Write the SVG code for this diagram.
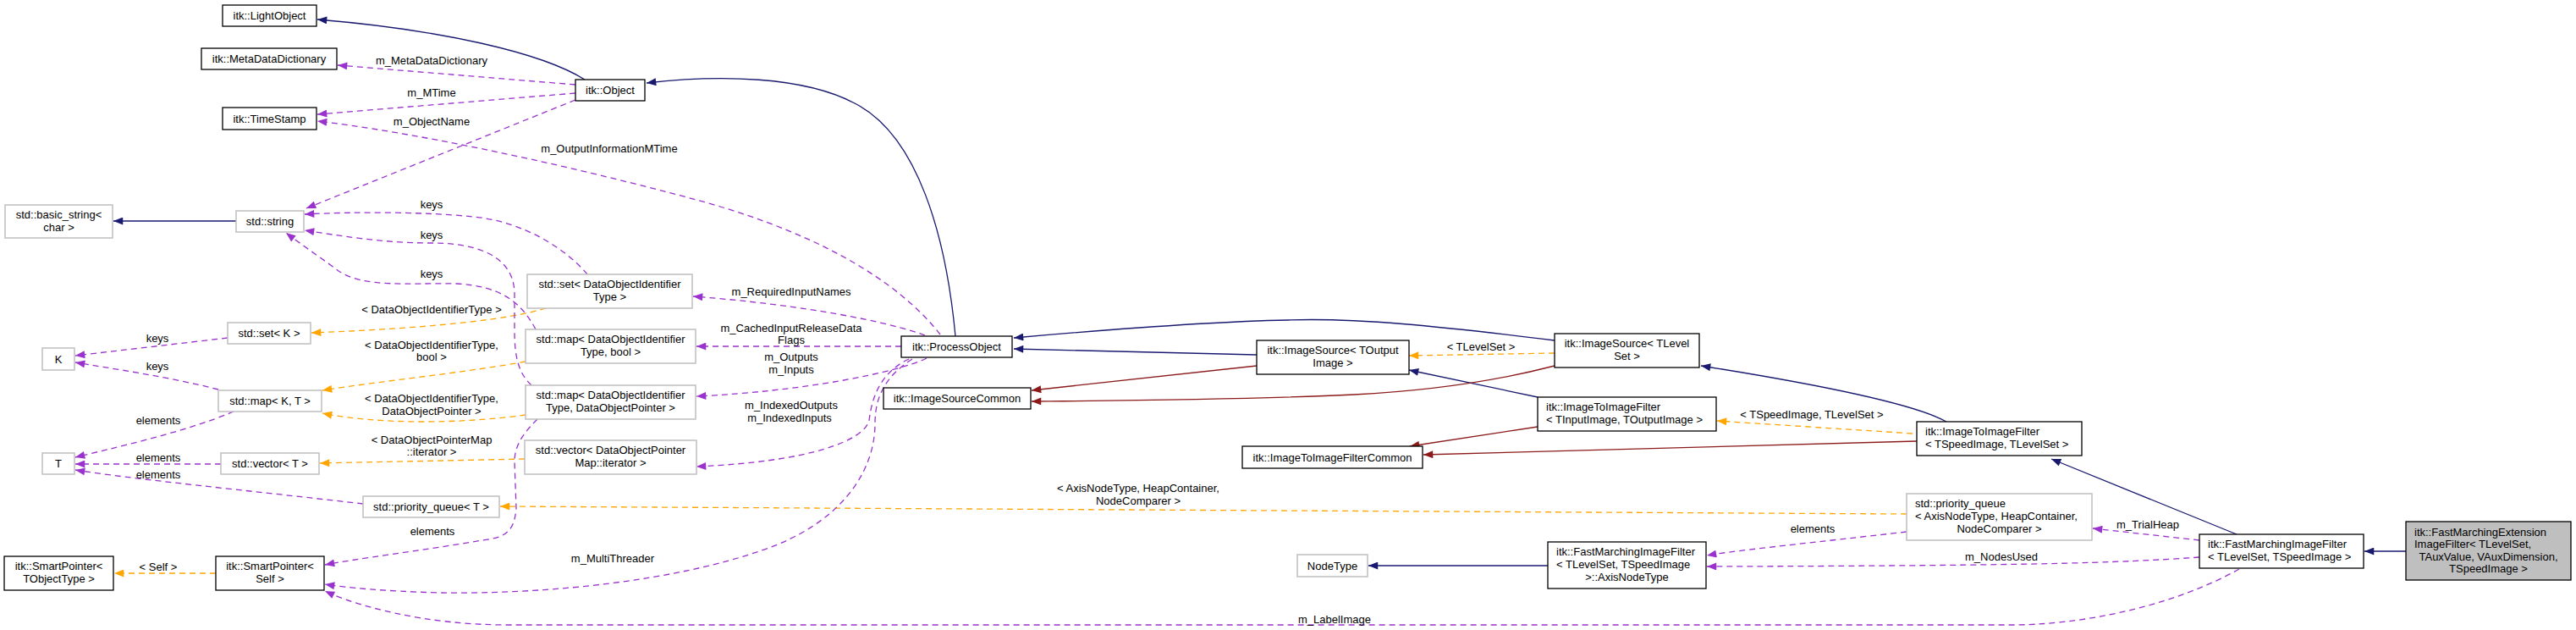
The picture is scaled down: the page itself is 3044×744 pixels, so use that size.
<svg xmlns="http://www.w3.org/2000/svg" width="3044" height="744" viewBox="0 0 3044 744">
<style>
text{font-family:"Liberation Sans",Arial,sans-serif;font-size:13px;fill:#000}
.c{text-anchor:middle}
.l{text-anchor:start}
.nb{fill:#fff;stroke:#000;stroke-width:1.3}
.ng{fill:#fff;stroke:#bfbfbf;stroke-width:1.5}
.nt{fill:#bfbfbf;stroke:#000;stroke-width:1.3}
.e{fill:none;stroke-width:1.3}
.inh{stroke:#191970}
.cmn{stroke:#8b1a1a}
.tpl{stroke:#ffa500;stroke-dasharray:7,5}
.use{stroke:#9a32cd;stroke-dasharray:7,5}
</style>
<defs>
<marker id="aN" viewBox="0 0 10 8" refX="10" refY="4" markerWidth="12" markerHeight="9" markerUnits="userSpaceOnUse" orient="auto"><path d="M0,0L10,4L0,8z" fill="#191970"/></marker>
<marker id="aR" viewBox="0 0 10 8" refX="10" refY="4" markerWidth="12" markerHeight="9" markerUnits="userSpaceOnUse" orient="auto"><path d="M0,0L10,4L0,8z" fill="#8b1a1a"/></marker>
<marker id="aO" viewBox="0 0 10 8" refX="10" refY="4" markerWidth="12" markerHeight="9" markerUnits="userSpaceOnUse" orient="auto"><path d="M0,0L10,4L0,8z" fill="#ffa500"/></marker>
<marker id="aP" viewBox="0 0 10 8" refX="10" refY="4" markerWidth="12" markerHeight="9" markerUnits="userSpaceOnUse" orient="auto"><path d="M0,0L10,4L0,8z" fill="#9a32cd"/></marker>
</defs>
<rect width="3044" height="744" fill="#fff"/>
<g id="connectors">
<path class="e inh" marker-end="url(#aN)" d="M691,94 C640,62 520,35 375,23"/>
<path class="e inh" marker-end="url(#aN)" d="M1129,397 C1118,280 1085,160 1010,122 C950,90 850,88 764,98"/>
<path class="e inh" marker-end="url(#aN)" d="M279,261 L134,261"/>
<path class="e inh" marker-end="url(#aN)" d="M1485,419 L1198,412"/>
<path class="e inh" marker-end="url(#aN)" d="M1837,402 C1700,385 1600,375 1522,378 C1420,380 1300,390 1198,399"/>
<path class="e inh" marker-end="url(#aN)" d="M1817,469 L1665,437"/>
<path class="e inh" marker-end="url(#aN)" d="M2300,498 Q2250,470 2010,432"/>
<path class="e inh" marker-end="url(#aN)" d="M2643,631 L2424,542"/>
<path class="e inh" marker-end="url(#aN)" d="M1829,668 L1617,668"/>
<path class="e inh" marker-end="url(#aN)" d="M2843,651 L2794,651"/>
<path class="e cmn" marker-end="url(#aR)" d="M1485,432 L1219,461"/>
<path class="e cmn" marker-end="url(#aR)" d="M1837,432 C1760,452 1680,462 1600,466 C1480,472 1330,473 1219,474"/>
<path class="e cmn" marker-end="url(#aR)" d="M1817,504 L1666,527"/>
<path class="e cmn" marker-end="url(#aR)" d="M2265,521 C2000,528 1800,534 1682,537"/>
<path class="e tpl" marker-end="url(#aO)" d="M1837,417 L1665,420"/>
<path class="e tpl" marker-end="url(#aO)" d="M2260,512 L2029,497"/>
<path class="e tpl" marker-end="url(#aO)" d="M2253,607 L591,598"/>
<path class="e tpl" marker-end="url(#aO)" d="M645,364 C600,378 500,388 368,393"/>
<path class="e tpl" marker-end="url(#aO)" d="M621,427 C550,440 450,450 381,461"/>
<path class="e tpl" marker-end="url(#aO)" d="M621,490 C550,500 450,502 381,488"/>
<path class="e tpl" marker-end="url(#aO)" d="M620,542 L378,547"/>
<path class="e tpl" marker-end="url(#aO)" d="M255,677 L135,677"/>
<path class="e use" marker-end="url(#aP)" d="M680,100 L399,77"/>
<path class="e use" marker-end="url(#aP)" d="M680,110 L375,135"/>
<path class="e use" marker-end="url(#aP)" d="M680,118 L362,246"/>
<path class="e use" marker-end="url(#aP)" d="M1111,395 C1060,330 960,270 800,230 C650,190 480,155 375,143"/>
<path class="e use" marker-end="url(#aP)" d="M694,324 C670,295 620,262 560,256 C500,250 420,250 360,253"/>
<path class="e use" marker-end="url(#aP)" d="M628,455 C612,440 608,420 608,390 L608,345 C606,300 560,287 510,287 C450,287 400,278 360,272"/>
<path class="e use" marker-end="url(#aP)" d="M633,389 C615,355 590,338 540,335 C480,334 430,340 400,320 C380,305 355,288 338,275"/>
<path class="e use" marker-end="url(#aP)" d="M269,399 L89,420"/>
<path class="e use" marker-end="url(#aP)" d="M258,460 C200,445 130,435 89,428"/>
<path class="e use" marker-end="url(#aP)" d="M276,486 C220,510 130,530 89,540"/>
<path class="e use" marker-end="url(#aP)" d="M261,548 L89,548"/>
<path class="e use" marker-end="url(#aP)" d="M429,595 C300,580 150,565 89,555"/>
<path class="e use" marker-end="url(#aP)" d="M635,495 C620,510 608,525 608,545 L610,600 C608,625 600,635 570,638 C500,650 420,660 384,667"/>
<path class="e use" marker-end="url(#aP)" d="M1093,396 C1050,380 950,360 819,350"/>
<path class="e use" marker-end="url(#aP)" d="M1065,409 L823,409"/>
<path class="e use" marker-end="url(#aP)" d="M1095,423 C1060,440 950,462 823,468"/>
<path class="e use" marker-end="url(#aP)" d="M1074,424 C1040,440 1030,470 1027,497 C1020,520 960,545 823,551"/>
<path class="e use" marker-end="url(#aP)" d="M1078,424 C1045,445 1034,470 1034,500 C1034,560 990,620 900,650 C800,685 650,702 520,700 C450,698 410,694 384,690"/>
<path class="e use" marker-end="url(#aP)" d="M2646,672 C2560,720 2450,738 2378,738 L600,738 C500,738 420,715 384,698"/>
<path class="e use" marker-end="url(#aP)" d="M2599,638 L2473,624"/>
<path class="e use" marker-end="url(#aP)" d="M2599,658 C2500,665 2400,668 2017,669"/>
<path class="e use" marker-end="url(#aP)" d="M2253,628 C2150,640 2050,650 2017,656"/>
</g>
<g id="edge-labels">
<text class="c" x="510" y="75.5">m_MetaDataDictionary</text>
<text class="c" x="510" y="113.5">m_MTime</text>
<text class="c" x="510" y="147.5">m_ObjectName</text>
<text class="c" x="720" y="179.5">m_OutputInformationMTime</text>
<text class="c" x="510" y="245.5">keys</text>
<text class="c" x="510" y="281.5">keys</text>
<text class="c" x="510" y="327.5">keys</text>
<text class="c" x="510" y="369.5">&lt; DataObjectIdentifierType &gt;</text>
<text class="c" x="186" y="403.5">keys</text>
<text class="c" x="510" y="411.5">&lt; DataObjectIdentifierType,</text>
<text class="c" x="510" y="425.5">bool &gt;</text>
<text class="c" x="186" y="436.5">keys</text>
<text class="c" x="510" y="474.5">&lt; DataObjectIdentifierType,</text>
<text class="c" x="510" y="489.5">DataObjectPointer &gt;</text>
<text class="c" x="187" y="500.5">elements</text>
<text class="c" x="510" y="523.5">&lt; DataObjectPointerMap</text>
<text class="c" x="510" y="537.5">::iterator &gt;</text>
<text class="c" x="187" y="544.5">elements</text>
<text class="c" x="187" y="564.5">elements</text>
<text class="c" x="511" y="631.5">elements</text>
<text class="c" x="187" y="673.5">&lt; Self &gt;</text>
<text class="c" x="724" y="663.5">m_MultiThreader</text>
<text class="c" x="935" y="348.5">m_RequiredInputNames</text>
<text class="c" x="935" y="391.5">m_CachedInputReleaseData</text>
<text class="c" x="935" y="405.5">Flags</text>
<text class="c" x="935" y="425.5">m_Outputs</text>
<text class="c" x="935" y="440.5">m_Inputs</text>
<text class="c" x="935" y="482.5">m_IndexedOutputs</text>
<text class="c" x="933" y="497.5">m_IndexedInputs</text>
<text class="c" x="1750" y="413.5">&lt; TLevelSet &gt;</text>
<text class="c" x="2141" y="493.5">&lt; TSpeedImage, TLevelSet &gt;</text>
<text class="c" x="1345" y="580.5">&lt; AxisNodeType, HeapContainer,</text>
<text class="c" x="1345" y="595.5">NodeComparer &gt;</text>
<text class="c" x="2142" y="628.5">elements</text>
<text class="c" x="2538" y="623.5">m_TrialHeap</text>
<text class="c" x="2365" y="661.5">m_NodesUsed</text>
<text class="c" x="1577" y="735.5">m_LabelImage</text>
</g>
<g id="n_light"><rect class="nb" x="263" y="6" width="111" height="25"/><text class="c" x="318.5" y="23">itk::LightObject</text></g>
<g id="n_mdd"><rect class="nb" x="238" y="57" width="160" height="25"/><text class="c" x="318" y="74">itk::MetaDataDictionary</text></g>
<g id="n_ts"><rect class="nb" x="263" y="127" width="111" height="26"/><text class="c" x="318.5" y="144.5">itk::TimeStamp</text></g>
<g id="n_obj"><rect class="nb" x="680" y="94" width="82" height="25"/><text class="c" x="721" y="111">itk::Object</text></g>
<g id="n_bstr"><rect class="ng" x="6" y="242" width="127" height="39"/><text class="c" x="69.5" y="257.5">std::basic_string&lt;</text><text class="c" x="69.5" y="272.5">char &gt;</text></g>
<g id="n_str"><rect class="ng" x="279" y="249" width="80" height="25"/><text class="c" x="319" y="266">std::string</text></g>
<g id="n_setk"><rect class="ng" x="269" y="381" width="98" height="25"/><text class="c" x="318" y="398">std::set&lt; K &gt;</text></g>
<g id="n_k"><rect class="ng" x="50" y="411" width="38" height="26"/><text class="c" x="69" y="428.5">K</text></g>
<g id="n_mapkt"><rect class="ng" x="258" y="461" width="122" height="25"/><text class="c" x="319" y="478">std::map&lt; K, T &gt;</text></g>
<g id="n_t"><rect class="ng" x="50" y="535" width="38" height="25"/><text class="c" x="69" y="552">T</text></g>
<g id="n_vect"><rect class="ng" x="261" y="535" width="116" height="25"/><text class="c" x="319" y="552">std::vector&lt; T &gt;</text></g>
<g id="n_pqt"><rect class="ng" x="429" y="586" width="161" height="25"/><text class="c" x="509.5" y="603">std::priority_queue&lt; T &gt;</text></g>
<g id="n_spto"><rect class="nb" x="5" y="657" width="129" height="40"/><text class="c" x="69.5" y="673">itk::SmartPointer&lt;</text><text class="c" x="69.5" y="688">TObjectType &gt;</text></g>
<g id="n_sps"><rect class="nb" x="255" y="657" width="128" height="40"/><text class="c" x="319" y="673">itk::SmartPointer&lt;</text><text class="c" x="319" y="688">Self &gt;</text></g>
<g id="n_setdoi"><rect class="ng" x="623" y="324" width="195" height="40"/><text class="c" x="720.5" y="340">std::set&lt; DataObjectIdentifier</text><text class="c" x="720.5" y="355">Type &gt;</text></g>
<g id="n_mapb"><rect class="ng" x="621" y="389" width="201" height="40"/><text class="c" x="721.5" y="405">std::map&lt; DataObjectIdentifier</text><text class="c" x="721.5" y="420">Type, bool &gt;</text></g>
<g id="n_mapdop"><rect class="ng" x="621" y="455" width="201" height="40"/><text class="c" x="721.5" y="471">std::map&lt; DataObjectIdentifier</text><text class="c" x="721.5" y="486">Type, DataObjectPointer &gt;</text></g>
<g id="n_vecdop"><rect class="ng" x="620" y="520" width="203" height="40"/><text class="c" x="721.5" y="536">std::vector&lt; DataObjectPointer</text><text class="c" x="721.5" y="551">Map::iterator &gt;</text></g>
<g id="n_po"><rect class="nb" x="1065" y="397" width="131" height="25"/><text class="c" x="1130.5" y="414">itk::ProcessObject</text></g>
<g id="n_isc"><rect class="nb" x="1044" y="458" width="174" height="25"/><text class="c" x="1131" y="475">itk::ImageSourceCommon</text></g>
<g id="n_isout"><rect class="nb" x="1485" y="402" width="180" height="40"/><text class="c" x="1575" y="418">itk::ImageSource&lt; TOutput</text><text class="c" x="1575" y="433">Image &gt;</text></g>
<g id="n_isls"><rect class="nb" x="1837" y="394" width="171" height="40"/><text class="c" x="1922.5" y="410">itk::ImageSource&lt; TLevel</text><text class="c" x="1922.5" y="425">Set &gt;</text></g>
<g id="n_itiio"><rect class="nb" x="1817" y="469" width="211" height="40"/><text class="l" x="1827" y="485">itk::ImageToImageFilter</text><text class="l" x="1827" y="500">&lt; TInputImage, TOutputImage &gt;</text></g>
<g id="n_itic"><rect class="nb" x="1468" y="527" width="213" height="26"/><text class="c" x="1574.5" y="544.5">itk::ImageToImageFilterCommon</text></g>
<g id="n_itisl"><rect class="nb" x="2265" y="498" width="195" height="40"/><text class="l" x="2275" y="514">itk::ImageToImageFilter</text><text class="l" x="2275" y="529">&lt; TSpeedImage, TLevelSet &gt;</text></g>
<g id="n_pqa"><rect class="ng" x="2253" y="583" width="219" height="55"/><text class="l" x="2263" y="599">std::priority_queue</text><text class="l" x="2263" y="614">&lt; AxisNodeType, HeapContainer,</text><text class="c" x="2362.5" y="629">NodeComparer &gt;</text></g>
<g id="n_nt"><rect class="ng" x="1533" y="655" width="83" height="26"/><text class="c" x="1574.5" y="672.5">NodeType</text></g>
<g id="n_axis"><rect class="nb" x="1829" y="640" width="187" height="55"/><text class="l" x="1839" y="656">itk::FastMarchingImageFilter</text><text class="l" x="1839" y="671">&lt; TLevelSet, TSpeedImage</text><text class="c" x="1922.5" y="686">&gt;::AxisNodeType</text></g>
<g id="n_fmif"><rect class="nb" x="2599" y="631" width="194" height="40"/><text class="l" x="2609" y="647">itk::FastMarchingImageFilter</text><text class="l" x="2609" y="662">&lt; TLevelSet, TSpeedImage &gt;</text></g>
<g id="n_target"><rect class="nt" x="2843" y="616" width="195" height="69"/><text class="l" x="2853" y="632.5">itk::FastMarchingExtension</text><text class="l" x="2853" y="647">ImageFilter&lt; TLevelSet,</text><text class="c" x="2940.5" y="661.5">TAuxValue, VAuxDimension,</text><text class="c" x="2940.5" y="676">TSpeedImage &gt;</text></g>
</svg>
